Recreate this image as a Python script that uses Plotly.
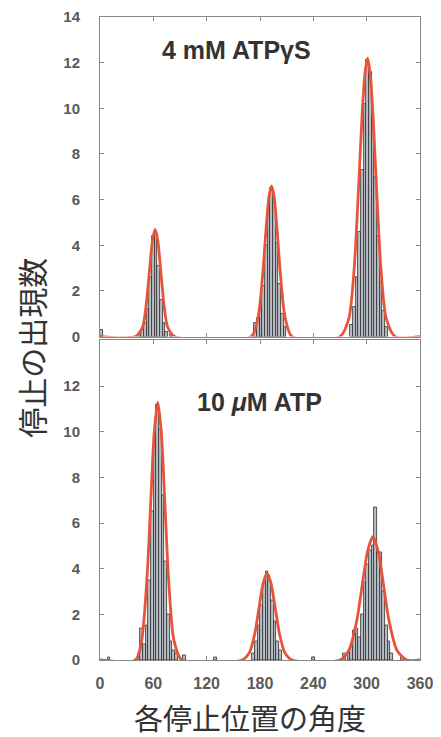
import plotly.graph_objects as go

# ---- data ----
top_label = "4 mM ATPγS"
bottom_label = "10 <i>μ</i>M ATP"

top_bin_x = [2, 45, 48, 51, 54, 57, 60, 63, 66, 69, 72, 75, 80,
             175, 178, 181, 184, 187, 190, 193, 196, 199, 202, 205, 208,
             283, 286, 289, 292, 295, 298, 301, 304, 307, 310, 313, 316, 319, 322]
top_counts = [0.3, 0.2, 0.3, 0.6, 1.2, 2.6, 4.4, 4.6, 3.1, 1.6, 0.6, 0.2, 0.1,
              0.6, 0.8, 1.2, 2.2, 4.0, 5.8, 6.5, 5.9, 4.1, 2.3, 1.0, 0.4,
              0.5, 1.3, 2.6, 4.6, 7.3, 10.2, 12.1, 11.6, 9.6, 7.0, 4.4, 2.4, 1.1, 0.4]

bottom_bin_x = [10, 44, 47, 50, 53, 56, 59, 62, 65, 68, 71, 74, 77, 80, 83, 86, 95, 130,
                173, 176, 179, 182, 185, 188, 191, 194, 197, 200, 203, 240,
                275, 280, 283, 286, 289, 292, 295, 298, 301, 304, 307, 310, 313, 316,
                319, 322, 325, 328, 340]
bottom_counts = [0.1, 0.3, 1.4, 0.7, 1.5, 3.5, 6.5, 10.0, 11.2, 10.1, 7.2, 4.3, 2.0, 0.8, 0.4, 0.3, 0.2, 0.1,
                 0.3, 0.8, 1.5, 2.4, 3.4, 3.9, 3.5, 2.6, 1.7, 0.8, 0.4, 0.1,
                 0.3, 0.3, 0.6, 1.3, 1.4, 1.0, 2.0, 3.4, 4.2, 4.8, 5.0, 6.7, 4.7, 4.7,
                 3.0, 1.5, 0.8, 0.3, 0.1]

top_fit_x = [0, 40, 48, 52, 56, 59, 62, 65, 68, 72, 76, 84,
             170, 178, 183, 187, 190, 193, 196, 199, 203, 208, 216,
             270, 280, 286, 291, 295, 298, 301, 304, 307, 311, 316, 322, 332, 360]
top_fit_y = [0, 0, 0.43, 1.39, 3.03, 4.21, 4.7, 4.21, 3.03, 1.39, 0.43, 0,
             0, 0.89, 2.71, 4.79, 6.09, 6.6, 6.09, 4.79, 2.71, 0.89, 0,
             0, 0.8, 3.0, 6.6, 9.8, 11.5, 12.2, 11.5, 9.8, 6.6, 3.0, 0.8, 0, 0]

bottom_fit_x = [0, 40, 47, 53, 57, 61, 65, 69, 73, 77, 83, 92,
                160, 168, 174, 179, 183.5, 188, 192.5, 197, 202, 208, 216,
                270, 280, 289, 295, 301, 307, 313, 319, 325, 334, 345, 360]
bottom_fit_y = [0, 0, 0.9, 3.67, 6.86, 9.97, 11.3, 9.97, 6.86, 3.67, 0.9, 0,
                0, 0.32, 1.13, 2.31, 3.35, 3.8, 3.35, 2.31, 1.13, 0.32, 0,
                0, 0.43, 1.75, 3.28, 4.76, 5.4, 4.76, 3.28, 1.75, 0.43, 0, 0]

x_ticks = [0, 60, 120, 180, 240, 300, 360]
top_y_ticks = [0, 2, 4, 6, 8, 10, 12, 14]
bottom_y_ticks = [0, 2, 4, 6, 8, 10, 12]

# ---- styles ----
BAR_FILL = "#b9bec7"
BAR_LINE = "#2e2e2e"
FIT = "#e6553a"
AXIS = "#8a8a8a"
TICKTXT = "#5a5a5a"

fig = go.Figure()

fig.add_trace(go.Bar(x=top_bin_x, y=top_counts, width=3, marker=dict(color=BAR_FILL, line=dict(color=BAR_LINE, width=0.8)),
                     xaxis="x", yaxis="y", showlegend=False))
fig.add_trace(go.Scatter(x=top_fit_x, y=top_fit_y, mode="lines", cliponaxis=False,
                         line=dict(color=FIT, width=2.8, shape="spline", smoothing=0.7),
                         xaxis="x", yaxis="y", showlegend=False))
fig.add_trace(go.Bar(x=bottom_bin_x, y=bottom_counts, width=3, marker=dict(color=BAR_FILL, line=dict(color=BAR_LINE, width=0.8)),
                     xaxis="x2", yaxis="y2", showlegend=False))
fig.add_trace(go.Scatter(x=bottom_fit_x, y=bottom_fit_y, mode="lines", cliponaxis=False,
                         line=dict(color=FIT, width=2.8, shape="spline", smoothing=0.7),
                         xaxis="x2", yaxis="y2", showlegend=False))

ytickfont = dict(family="Liberation Sans", size=15, color=TICKTXT, weight="bold")
common_x = dict(range=[0, 360], tickvals=x_ticks, ticks="inside", ticklen=4, tickcolor=AXIS,
                showline=True, linecolor=AXIS, linewidth=1, mirror="ticks", showgrid=False, zeroline=False,
                automargin=False, layer="below traces")
common_y = dict(range=[0, 14], ticks="inside", ticklen=4, tickcolor=AXIS,
                showline=True, linecolor=AXIS, linewidth=1, mirror="ticks", showgrid=False, zeroline=False,
                tickfont=ytickfont, ticklabelstandoff=16, automargin=False, layer="below traces")

fig.update_layout(
    width=441, height=737,
    margin=dict(l=92, r=29, t=9, b=85),
    paper_bgcolor="white", plot_bgcolor="white",
    bargap=0,
    xaxis=dict(**common_x, domain=[0, 1], anchor="y", showticklabels=False),
    yaxis=dict(**common_y, domain=[0.503, 1], anchor="x", tickvals=top_y_ticks),
    xaxis2=dict(**common_x, domain=[0, 1], anchor="y2", showticklabels=True,
                tickfont=dict(family="Liberation Sans", size=16, color=TICKTXT, weight="bold"),
                ticklabelstandoff=9),
    yaxis2=dict(**common_y, domain=[0, 0.497], anchor="x2", tickvals=bottom_y_ticks),
    annotations=[
        dict(text=top_label, x=0.428, y=0.949, xref="paper", yref="paper", showarrow=False,
             xanchor="center", yanchor="middle",
             font=dict(family="Liberation Sans", size=25, color="#333333", weight="bold")),
        dict(text=bottom_label, x=0.497, y=0.401, xref="paper", yref="paper", showarrow=False,
             xanchor="center", yanchor="middle",
             font=dict(family="Liberation Sans", size=25, color="#333333", weight="bold")),
        dict(text="停止の出現数", x=-0.214, y=0.485, xref="paper", yref="paper", showarrow=False,
             xanchor="center", yanchor="middle",
             textangle=-90, font=dict(family="Noto Sans CJK JP", size=30, color="#333333")),
        dict(text="各停止位置の角度", x=0.47, y=-0.088, xref="paper", yref="paper", showarrow=False,
             xanchor="center", yanchor="middle",
             font=dict(family="Noto Sans CJK JP", size=29, color="#333333")),
    ],
)

fig.write_html("out.html")
